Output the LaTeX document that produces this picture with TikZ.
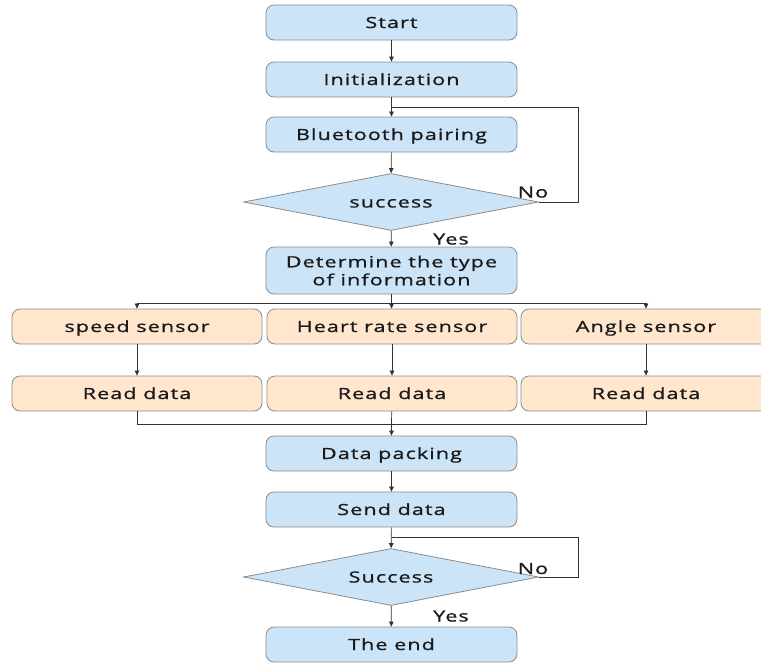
\documentclass[tikz,border=0pt]{standalone}
\usepackage{fontspec}
\setmainfont{Open Sans}[FakeStretch=1.4, LetterSpace=7, FakeBold=1]
\usetikzlibrary{shapes.geometric,arrows.meta,calc}
\definecolor{procblue}{HTML}{CCE4F8}
\definecolor{sensorange}{HTML}{FFE6CC}
\definecolor{edgegray}{HTML}{8C8C8C}
\definecolor{linegray}{HTML}{333333}
\definecolor{inkblack}{HTML}{1A1A1A}
\tikzset{
  txt/.style={font=\fontsize{15.4}{18}\selectfont, text=inkblack},
  capc/.style={text height=11pt, text depth=0pt},
  boxbase/.style={draw=edgegray, line width=0.8pt, rounded corners=8pt,
    minimum width=251pt, minimum height=35pt, inner sep=0pt,
    txt, align=center},
  box/.style={boxbase, capc},
  procbox/.style={box, fill=procblue},
  sensbox/.style={box, fill=sensorange, minimum width=250pt},
  decision/.style={diamond, draw=edgegray, line width=0.8pt, fill=procblue,
    minimum width=295pt, minimum height=57pt, inner sep=0pt, aspect=5.2,
    txt, capc},
  flow/.style={draw=linegray, line width=0.7pt, -{Triangle[length=5pt,width=4.5pt]}},
  plain/.style={draw=linegray, line width=0.7pt},
  lbl/.style={txt, capc, inner sep=0pt}
}
\begin{document}
\begin{tikzpicture}[x=1pt,y=-1pt]
\useasboundingbox (0,0) rectangle (761,665);
% main column
\node[procbox] (start) at (391.5,22.5) {Start};
\node[procbox] (init) at (391.5,79.5) {Initialization};
\node[procbox] (bt) at (391.5,134.5) {Bluetooth pairing};
\node[decision] (d1) at (391,202) {success};
\node[boxbase, fill=procblue, minimum height=47pt] (det) at (391.5,270.5) {Determine the type\\of information};
% sensor branches
\node[sensbox] (speed) at (137,326.5) {speed sensor};
\node[sensbox] (heart) at (392,326.5) {Heart rate sensor};
\node[sensbox] (angle) at (646,326.5) {Angle sensor};
\node[sensbox] (r1) at (137,393.5) {Read data};
\node[sensbox] (r2) at (392,393.5) {Read data};
\node[sensbox] (r3) at (646,393.5) {Read data};
% sending
\node[procbox] (pack) at (391.5,453.5) {Data packing};
\node[procbox] (send) at (391.5,509.5) {Send data};
\node[decision] (d2) at (391,577) {Success};
\node[procbox] (end) at (391.5,644.5) {The end};

% junction points
\coordinate (j1) at (391.5,107);
\coordinate (r1c) at (578,107);
\coordinate (split) at (391.5,303);
\coordinate (merge) at (391.5,424);
\coordinate (j2) at (391.5,537);
\coordinate (r2c) at (578,537);

\path[flow] (start) -- (init);
\path[flow] (init) -- (bt);
\path[flow] (bt) -- (d1);
\path[plain] (d1.east) -- (d1.east -| r1c) -- (r1c) -- (j1);
\path[flow] (d1) -- (det);
\path[plain] (det) -- (split);
\path[plain] (speed.north |- split) -- (angle.north |- split);
\path[flow] (speed.north |- split) -- (speed);
\path[flow] (split) -- (heart);
\path[flow] (angle.north |- split) -- (angle);
\path[flow] (speed) -- (r1);
\path[flow] (heart) -- (r2);
\path[flow] (angle) -- (r3);
\path[plain] (r1) -- (r1 |- merge) -- (r3 |- merge) -- (r3);
\path[plain] (r2) -- (merge);
\path[flow] (merge) -- (pack);
\path[flow] (pack) -- (send);
\path[flow] (send) -- (d2);
\path[plain] (d2.east) -- (d2.east -| r2c) -- (r2c) -- (j2);
\path[flow] (d2) -- (end);

% branch labels
\node[lbl] (no1) at (533,192) {No};
\node[lbl] (yes1) at (451,239) {Yes};
\node[lbl] (no2) at (533,568.5) {No};
\node[lbl] (yes2) at (451,616) {Yes};
\end{tikzpicture}
\end{document}
